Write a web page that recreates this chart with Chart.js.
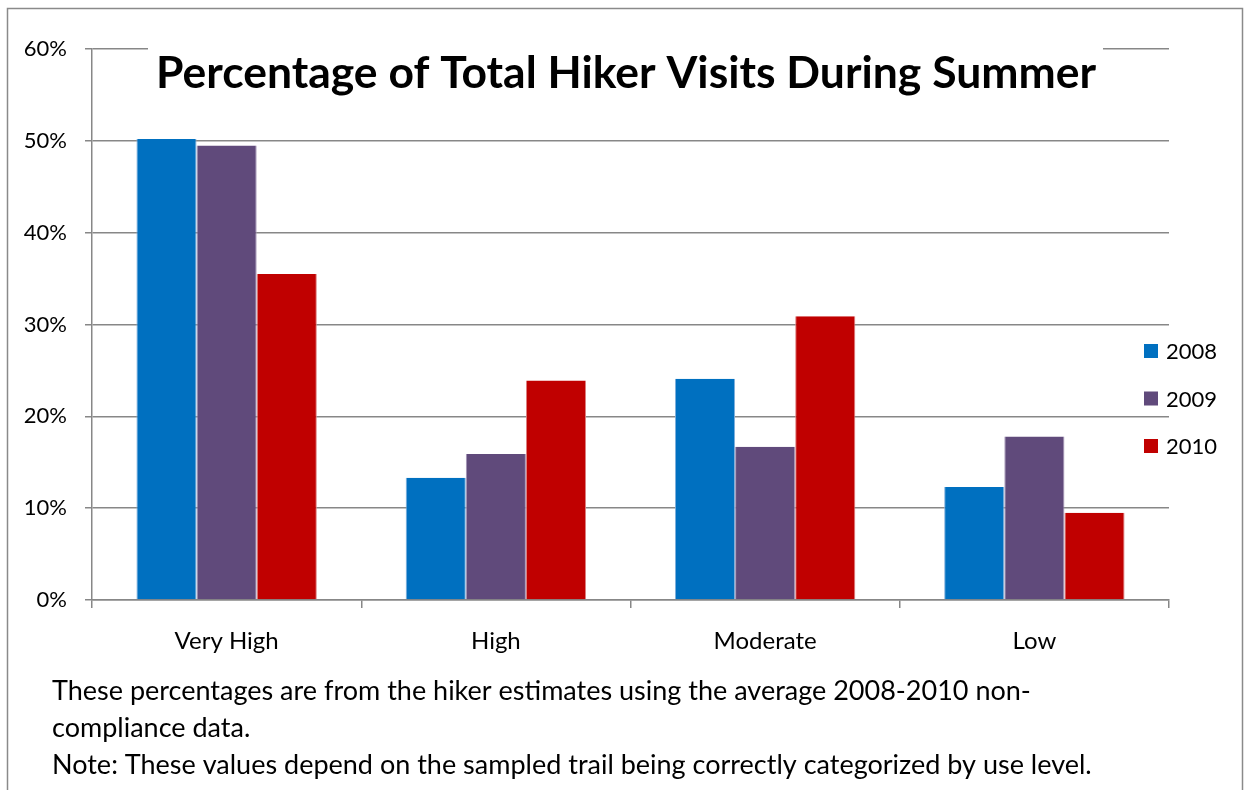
<!DOCTYPE html>
<html>
<head>
<meta charset="utf-8">
<script src="https://cdn.jsdelivr.net/npm/chart.js@4/dist/chart.umd.min.js"></script>
<style>
  html, body { margin: 0; padding: 0; background: #fff; }
  canvas { display: block; }
</style>
</head>
<body>
<canvas id="hikerChart" width="1247" height="790"></canvas>
<script>
const categories = ['Very High', 'High', 'Moderate', 'Low'];
const years = ['2008', '2009', '2010'];
const visits2008 = [50.2, 13.3, 24.1, 12.3];
const visits2009 = [49.5, 15.9, 16.7, 17.8];
const visits2010 = [35.5, 23.9, 30.9, 9.5];
const yTicks = [0, 10, 20, 30, 40, 50, 60];

const titleText = 'Percentage of Total Hiker Visits During Summer';
const notes = [
    'These percentages are from the hiker estimates using the average 2008-2010 non-',
    'compliance data.',
    'Note: These values depend on the sampled trail being correctly categorized by use level.'
];

const colors = ['#0070C0', '#604A7B', '#C00000'];
const edgeColors = ['#7FAFDC', '#A394B5', '#DC8080'];
const fontFamily = 'Lato, "Open Sans", sans-serif';
const axisGray = '#878787';

// frame, title box, legend and notes drawn around the chart area
const decorations = {
    id: 'decorations',
    beforeDraw(chart) {
        const ctx = chart.ctx;
        ctx.save();
        ctx.fillStyle = '#fff';
        ctx.fillRect(0, 0, chart.width, chart.height);
        ctx.strokeStyle = '#8a8a8a';
        ctx.lineWidth = 1.5;
        ctx.strokeRect(7.5, 8.5, 1235, 900);
        ctx.restore();
    },
    afterDraw(chart) {
        const ctx = chart.ctx;
        ctx.save();

        // title sits on a white box over the top gridline
        ctx.fillStyle = '#fff';
        ctx.fillRect(148, 36, 955, 80);
        ctx.fillStyle = '#000';
        ctx.textAlign = 'center';
        ctx.textBaseline = 'alphabetic';
        ctx.font = 'bold 44.5px ' + fontFamily;
        ctx.fillText(titleText, 626, 88, 940);

        // legend
        ctx.textAlign = 'left';
        ctx.textBaseline = 'middle';
        ctx.font = '22px ' + fontFamily;
        chart.data.datasets.forEach((ds, i) => {
            const cy = 351 + i * 47.5;
            ctx.fillStyle = ds.backgroundColor;
            ctx.fillRect(1144, cy - 7, 14, 14);
            ctx.fillStyle = '#000';
            ctx.fillText(ds.label, 1166, cy + 1);
        });

        // footnotes
        ctx.font = '27px ' + fontFamily;
        ctx.textBaseline = 'alphabetic';
        notes.forEach((line, i) => {
            ctx.fillText(line, 52, 700 + i * 37);
        });
        ctx.restore();
    }
};

new Chart(document.getElementById('hikerChart'), {
    type: 'bar',
    data: {
        labels: categories,
        datasets: years.map((year, i) => ({
            label: year,
            data: [visits2008, visits2009, visits2010][i],
            backgroundColor: colors[i],
            borderColor: edgeColors[i],
            borderWidth: { left: 1, right: 1, top: 0, bottom: 0 },
            barPercentage: 1,
            categoryPercentage: 0.67
        }))
    },
    options: {
        responsive: false,
        animation: false,
        layout: { padding: { left: 0, right: 78, top: 49, bottom: 0 } },
        plugins: {
            legend: { display: false },
            tooltip: { enabled: false }
        },
        scales: {
            x: {
                grid: {
                    offset: true,
                    drawOnChartArea: false,
                    drawTicks: true,
                    tickLength: 8,
                    color: axisGray,
                    lineWidth: 1.5
                },
                border: { display: true, color: axisGray, width: 1.5 },
                ticks: {
                    color: '#000',
                    padding: 19,
                    font: { family: fontFamily, size: 24 }
                },
                afterFit(scale) { scale.height = 190; }
            },
            y: {
                min: 0,
                max: 60,
                afterBuildTicks(scale) {
                    scale.ticks = yTicks.map(v => ({ value: v }));
                },
                grid: {
                    color: axisGray,
                    lineWidth: 1.5,
                    drawTicks: true,
                    tickLength: 7
                },
                border: { display: true, color: axisGray, width: 1.5 },
                ticks: {
                    color: '#000',
                    padding: 18,
                    font: { family: fontFamily, size: 22 },
                    callback: v => v + '%'
                },
                afterFit(scale) { scale.width = 92; }
            }
        }
    },
    plugins: [decorations]
});
</script>
</body>
</html>
